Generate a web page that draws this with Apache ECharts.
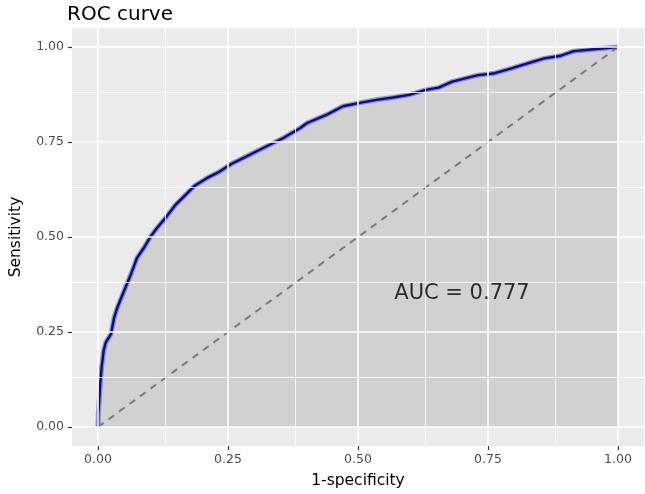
<!DOCTYPE html>
<html>
<head>
<meta charset="utf-8">
<script src="https://cdn.jsdelivr.net/npm/echarts@6/dist/echarts.min.js"></script>
<style>
html,body{margin:0;padding:0;background:#fff;}
#chart{width:645px;height:494px;}
</style>
</head>
<body>
<div id="chart"></div>
<script>
// ROC curve points: 1-specificity (fpr) and sensitivity (tpr)
var fpr = [0, 0.0006, 0.0025, 0.0044, 0.007, 0.011, 0.015, 0.025, 0.031, 0.037, 0.050, 0.063, 0.075, 0.088, 0.101, 0.113, 0.129, 0.148, 0.167, 0.186, 0.212, 0.231, 0.256, 0.281, 0.307, 0.332, 0.357, 0.389, 0.402, 0.440, 0.471, 0.503, 0.535, 0.567, 0.598, 0.630, 0.655, 0.681, 0.719, 0.731, 0.763, 0.795, 0.826, 0.858, 0.890, 0.915, 0.953, 1.0];
var tpr = [0, 0.036, 0.072, 0.115, 0.158, 0.202, 0.223, 0.245, 0.288, 0.314, 0.358, 0.401, 0.445, 0.471, 0.501, 0.523, 0.549, 0.583, 0.609, 0.635, 0.657, 0.670, 0.692, 0.709, 0.727, 0.744, 0.761, 0.787, 0.800, 0.822, 0.844, 0.853, 0.861, 0.867, 0.874, 0.887, 0.893, 0.909, 0.922, 0.926, 0.931, 0.944, 0.957, 0.970, 0.977, 0.989, 0.994, 1.0];
var diagX = [0, 1];
var diagY = [0, 1];
var majorTicks = [0, 0.25, 0.5, 0.75, 1];
var minorTicks = [0.125, 0.375, 0.625, 0.875];
var aucLabel = 'AUC = 0.777';
var aucPos = [0.7, 0.35];

var FONT = 'DejaVu Sans';
var curve = fpr.map(function (x, i) { return [x, tpr[i]]; });
var diag = diagX.map(function (x, i) { return [x, diagY[i]]; });

function gridLines(vals, width) {
  var d = [];
  vals.forEach(function (v) {
    d.push({ xAxis: v, lineStyle: { width: width } });
    d.push({ yAxis: v, lineStyle: { width: width } });
  });
  return d;
}

var chart = echarts.init(document.getElementById('chart'), null, { renderer: 'canvas' });
chart.setOption({
  animation: false,
  backgroundColor: '#ffffff',
  title: {
    text: 'ROC curve',
    left: 62, top: 0,
    textStyle: { fontFamily: FONT, fontSize: 20, fontWeight: 'normal', color: '#000' }
  },
  grid: {
    left: 66, top: 28, width: 578, height: 422,
    show: true, backgroundColor: '#EBEBEB', borderWidth: 0
  },
  xAxis: {
    type: 'value', min: -0.05, max: 1.05,
    name: '1-specificity', nameLocation: 'middle', nameGap: 27,
    nameTextStyle: { fontFamily: FONT, fontSize: 15.5, color: '#000' },
    axisLine: { show: false, onZero: false },
    axisTick: { show: true, length: 4, customValues: majorTicks, lineStyle: { color: '#333', width: 1.2 } },
    axisLabel: { customValues: majorTicks, margin: 7, fontFamily: FONT, fontSize: 12.5, color: '#4D4D4D',
      formatter: function (v) { return v.toFixed(2); } },
    splitLine: { show: false }
  },
  yAxis: {
    type: 'value', min: -0.05, max: 1.05,
    name: 'Sensitivity', nameLocation: 'middle', nameGap: 48,
    nameTextStyle: { fontFamily: FONT, fontSize: 15.5, color: '#000' },
    axisLine: { show: false, onZero: false },
    axisTick: { show: true, length: 4, customValues: majorTicks, lineStyle: { color: '#333', width: 1.2 } },
    axisLabel: { customValues: majorTicks, margin: 8, fontFamily: FONT, fontSize: 12.5, color: '#4D4D4D',
      formatter: function (v) { return v.toFixed(2); } },
    splitLine: { show: false }
  },
  series: [
    {
      type: 'line', data: [], z: 1, silent: true,
      markLine: {
        silent: true, symbol: 'none', label: { show: false },
        lineStyle: { color: '#ffffff', type: 'solid' },
        emphasis: { disabled: true },
        data: gridLines(minorTicks, 0.8).concat(gridLines(majorTicks, 1.6))
      }
    },
    {
      type: 'line', data: curve, z: 2, symbol: 'none', smooth: false,
      lineStyle: { color: 'rgba(80,80,190,0.55)', width: 5 },
      areaStyle: { origin: 0, color: 'rgba(0,0,0,0.155)' }
    },
    {
      type: 'line', data: diag, z: 3, symbol: 'none',
      lineStyle: { color: '#7a7a7a', width: 2, type: [7, 6] }
    },
    {
      type: 'line', data: curve, z: 4, symbol: 'none',
      lineStyle: { color: '#0a0a8a', width: 2.4 }
    },
    {
      type: 'scatter', data: [aucPos], z: 5, symbolSize: 0, silent: true,
      label: { show: true, position: 'inside', formatter: aucLabel,
        fontFamily: FONT, fontSize: 21, color: '#000' }
    }
  ]
});
</script>
</body>
</html>
